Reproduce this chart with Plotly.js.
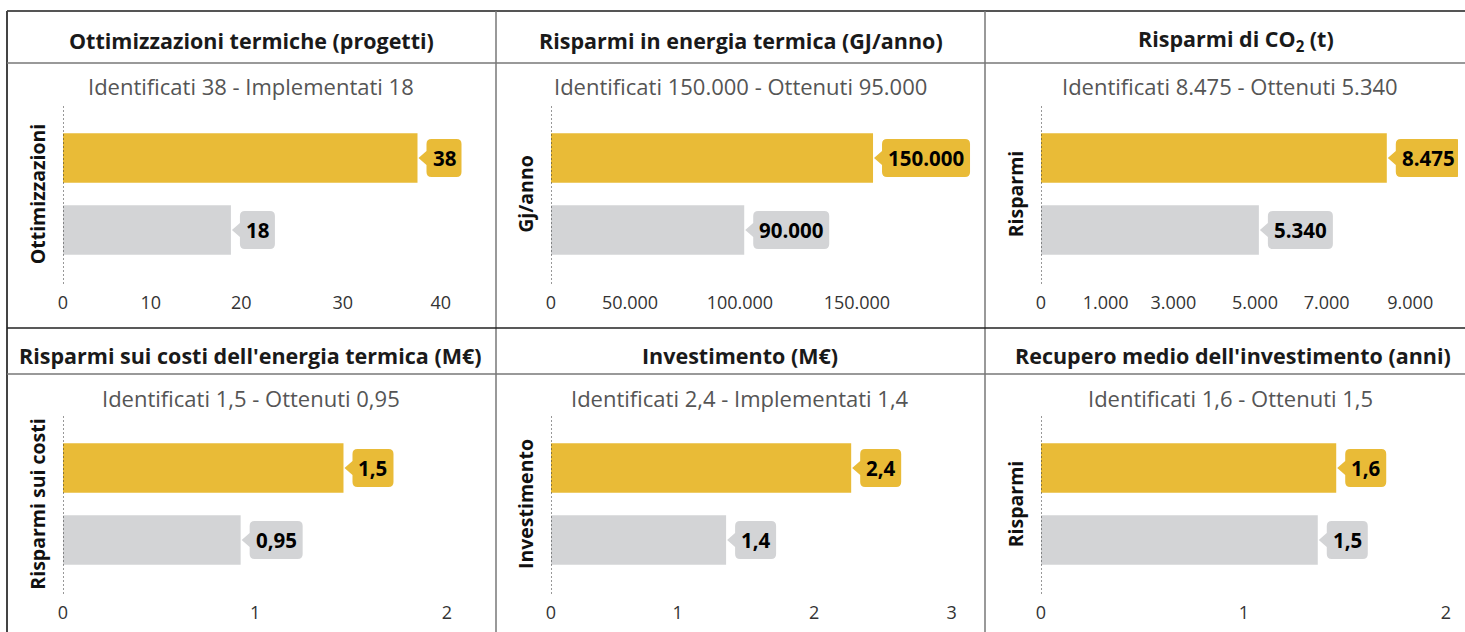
<!DOCTYPE html>
<html><head><meta charset="utf-8">
<script src="https://cdn.plot.ly/plotly-3.0.1.min.js"></script>
<style>html,body{margin:0;padding:0;background:#fff}#chart{width:1465px;height:632px}</style>
</head><body><div id="chart"></div>
<script>
// ---------- data ----------
const categories = ["Identificati", "Ottenuti"];
const titles = ["Ottimizzazioni termiche (progetti)", "Risparmi in energia termica (GJ/anno)", "Risparmi di CO<sub>2</sub> (t)",
                "Risparmi sui costi dell'energia termica (M€)", "Investimento (M€)", "Recupero medio dell'investimento (anni)"];
const subtitles = ["Identificati 38 - Implementati 18", "Identificati 150.000 - Ottenuti 95.000", "Identificati 8.475 - Ottenuti 5.340",
                   "Identificati 1,5 - Ottenuti 0,95", "Identificati 2,4 - Implementati 1,4", "Identificati 1,6 - Ottenuti 1,5"];
const axisTitles = ["Ottimizzazioni", "Gj/anno", "Risparmi", "Risparmi sui costi", "Investimento", "Risparmi"];

const ottimizzazioni = [38, 18];
const energiaTermica = [150000, 90000];
const co2 = [8475, 5340];
const costiEnergia = [1.5, 0.95];
const investimento = [2.4, 1.4];
const recupero = [1.6, 1.5];

const ticks1 = [0, 10, 20, 30, 40];
const ticks2 = [0, 50000, 100000, 150000];
const ticks3 = [0, 1000, 3000, 5000, 7000, 9000];
const ticks4 = [0, 1, 2];
const ticks5 = [0, 1, 2, 3];
const ticks6 = [0, 1, 2];
// where each tick label sits on the axis
const tickAt1 = [0, 9.4, 19.1, 30, 40.5];
const tickAt2 = [0, 36800, 88000, 142500];
const tickAt3 = [0, 1585, 3245, 5245, 7000, 9050];
const tickAt4 = [0, 1.027, 2.053];
const tickAt5 = [0, 1.012, 2.104, 3.203];
const tickAt6 = [0, 1.1, 2.195];

// ---------- helpers ----------
function fmt(v) {
  const s = String(v).split('.');
  const intp = s[0].replace(/\B(?=(\d{3})+(?!\d))/g, '.');
  return s.length > 1 ? intp + ',' + s[1] : intp;
}
const W = 1465, H = 632;
const px = x => x / W;
const py = y => 1 - y / H;
const FONT = "'Open Sans', 'Noto Sans', sans-serif";
const GOLD = '#E9BB37', GRAY = '#D3D4D6';
const LABEL_SIZE = 20.5;

const charts = [
  {vals: ottimizzazioni, ticks: ticks1, at: tickAt1, xmax: 44.7},
  {vals: energiaTermica, ticks: ticks2, at: tickAt2, xmax: 197500},
  {vals: co2, ticks: ticks3, at: tickAt3, xmax: 10220},
  {vals: costiEnergia, ticks: ticks4, at: tickAt4, xmax: 2.23},
  {vals: investimento, ticks: ticks5, at: tickAt5, xmax: 3.39},
  {vals: recupero, ticks: ticks6, at: tickAt6, xmax: 2.26}
];
const colX = [[63, 480], [551, 975], [1041, 1458]];
const rowY = [[104, 284], [414, 594]];
const titleX = [[251, 741, 1236], [250, 740, 1233]];
const subX = [[251, 740, 1230], [251, 740, 1230]];
const titleY = [40, 355], subY = [86, 398];

const canvas = document.createElement('canvas');
const ctx = canvas.getContext('2d');
ctx.font = "700 " + LABEL_SIZE + "px 'Open Sans'";

const data = [], shapes = [], annotations = [];
const layout = {
  width: W, height: H, margin: {l: 0, r: 0, t: 0, b: 0},
  paper_bgcolor: '#fff', plot_bgcolor: 'rgba(0,0,0,0)',
  showlegend: false, font: {family: FONT, color: '#333'},
  shapes: shapes, annotations: annotations
};

charts.forEach((c, i) => {
  const n = i + 1, col = i % 3, row = Math.floor(i / 3);
  const xa = 'x' + (n === 1 ? '' : n), ya = 'y' + (n === 1 ? '' : n);
  data.push({
    type: 'bar', orientation: 'h', x: c.vals, y: categories,
    xaxis: xa, yaxis: ya, width: 0.69,
    marker: {color: [GOLD, GRAY]}, hoverinfo: 'x+y'
  });
  layout['xaxis' + (n === 1 ? '' : n)] = {
    domain: [px(colX[col][0]), px(colX[col][1])], range: [0, c.xmax],
    anchor: ya, showgrid: false, zeroline: false, showline: false, ticks: '',
    tickmode: 'array', tickvals: c.at, ticktext: c.ticks.map(fmt),
    tickfont: {size: 18, color: '#333', family: FONT}, ticklabelstandoff: 6, fixedrange: true
  };
  layout['yaxis' + (n === 1 ? '' : n)] = {
    domain: [py(rowY[row][1]), py(rowY[row][0])], range: [1.75, -0.75],
    type: 'category', categoryarray: categories, anchor: xa,
    showgrid: false, zeroline: false, showline: false, ticks: '', showticklabels: false,
    title: {text: axisTitles[i], font: {size: 19.5, color: '#111', family: FONT, weight: 700}, standoff: 11},
    fixedrange: true
  };
  // dashed zero line
  shapes.push({type: 'line', xref: xa, yref: ya + ' domain', x0: 0, x1: 0, y0: 0, y1: 1,
               line: {color: '#333', width: 1, dash: '2px,2px'}, layer: 'above'});
  // callouts
  c.vals.forEach((v, k) => {
    const label = fmt(v);
    const w = Math.round(ctx.measureText(label).width) + 12;
    const r = 5, L = 9, h = 19, a = 7;
    const path = `M ${L + r} ${h} L ${L + w - r} ${h} Q ${L + w} ${h} ${L + w} ${h - r} L ${L + w} ${-h + r} Q ${L + w} ${-h} ${L + w - r} ${-h} ` +
                 `L ${L + r} ${-h} Q ${L} ${-h} ${L} ${-h + r} L ${L} ${-a} L 1 0 L ${L} ${a} L ${L} ${h - r} Q ${L} ${h} ${L + r} ${h} Z`;
    shapes.push({type: 'path', xref: xa, yref: ya, xsizemode: 'pixel', ysizemode: 'pixel',
                 xanchor: v, yanchor: k, path: path, fillcolor: k === 0 ? GOLD : GRAY,
                 line: {width: 0}, layer: 'above'});
    annotations.push({xref: xa, yref: ya, x: v, y: k, text: '<b>' + label + '</b>', showarrow: false,
                      xanchor: 'center', yanchor: 'middle', xshift: L + w / 2, yshift: 0,
                      font: {size: LABEL_SIZE, color: '#000', family: FONT}});
  });
  annotations.push({xref: 'paper', yref: 'paper', x: px(titleX[row][col]), y: py(titleY[row]),
                    text: '<b>' + titles[i] + '</b>', showarrow: false, xanchor: 'center', yanchor: 'middle',
                    font: {size: 21.5, color: '#1a1a1a', family: FONT}});
  annotations.push({xref: 'paper', yref: 'paper', x: px(subX[row][col]), y: py(subY[row]),
                    text: subtitles[i], showarrow: false, xanchor: 'center', yanchor: 'middle',
                    font: {size: 22, color: '#555', family: FONT}});
});

// table borders
const P = (x0, y0, x1, y1, color, width) => shapes.push({type: 'line', xref: 'paper', yref: 'paper',
  x0: px(x0), y0: py(y0), x1: px(x1), y1: py(y1), line: {color: color, width: width}, layer: 'below'});
P(7, 11, 1465, 11, '#555', 2);
P(7, 11, 7, 632, '#444', 2);
P(496, 11, 496, 632, '#777', 1.5);
P(985, 11, 985, 632, '#777', 1.5);
P(7, 63, 1465, 63, '#777', 1.5);
P(7, 328, 1465, 328, '#222', 1.5);
P(7, 374, 1465, 374, '#777', 1.5);

Plotly.newPlot('chart', data, layout, {displayModeBar: false});
</script>
</body></html>
